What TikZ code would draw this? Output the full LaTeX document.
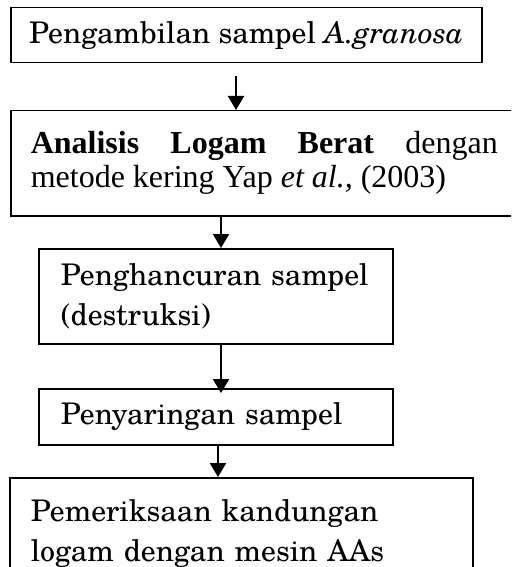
\documentclass[tikz,border=0pt]{standalone}
\usepackage{fontspec}
\setmainfont{Liberation Serif}
\newfontfamily\schola{TeX Gyre Schola}
\usetikzlibrary{arrows.meta}

\tikzset{
    stepbox/.style={draw, line width=1.5pt, anchor=north west, inner ysep=0pt},
    arr/.style={line width=2.2pt, -{Triangle[width=16pt,length=14pt]}}
}

\begin{document}
\begin{tikzpicture}[x=1pt, y=-1pt]
    % Fix the frame
    \useasboundingbox (0,0) rectangle (511,567);
    \clip (0,0) rectangle (511,567);

    % Draw the boxes
    \node[stepbox, minimum width=471pt, minimum height=55pt, align=center,
        font=\schola\fontsize{29.8}{40}\selectfont] (ambil) at (10,7)
        {Pengambilan sampel \textit{A.granosa}};
    \node[stepbox, minimum width=507pt, minimum height=105pt, inner xsep=20pt,
        text width=467pt, align=justify, font=\fontsize{32}{34}\selectfont]
        (analisis) at (10,110)
        {\textbf{Analisis Logam Berat} dengan\linebreak metode kering Yap \textit{et al.,} (2003)};
    \node[stepbox, minimum width=354pt, minimum height=95pt, inner xsep=22pt,
        text width=310pt, align=left, font=\schola\fontsize{29.8}{40}\selectfont]
        (hancur) at (38,248)
        {Penghancuran sampel\\(destruksi)};
    \node[stepbox, minimum width=354pt, minimum height=56pt, inner xsep=22pt,
        text width=310pt, align=left, font=\schola\fontsize{29.8}{40}\selectfont]
        (saring) at (38,388)
        {Penyaringan sampel};
    \node[stepbox, minimum width=463pt, minimum height=112pt, inner xsep=21pt,
        text width=421pt, align=left, font=\schola\fontsize{29.8}{40}\selectfont]
        (periksa) at (9,477)
        {Pemeriksaan kandungan\\logam dengan mesin AAs};

    % Draw the arrows
    \coordinate (ax1) at (236,0);
    \coordinate (ax2) at (221,0);
    \coordinate (ax3) at (218,0);
    \draw[arr, shorten <=13pt] (ambil.south -| ax1) -- (analisis.north -| ax1);
    \draw[arr] (analisis.south -| ax2) -- (hancur.north -| ax2);
    \draw[arr, shorten >=-5pt] (hancur.south -| ax2) -- (saring.north -| ax2);
    \draw[arr] (saring.south -| ax3) -- (periksa.north -| ax3);
\end{tikzpicture}
\end{document}
